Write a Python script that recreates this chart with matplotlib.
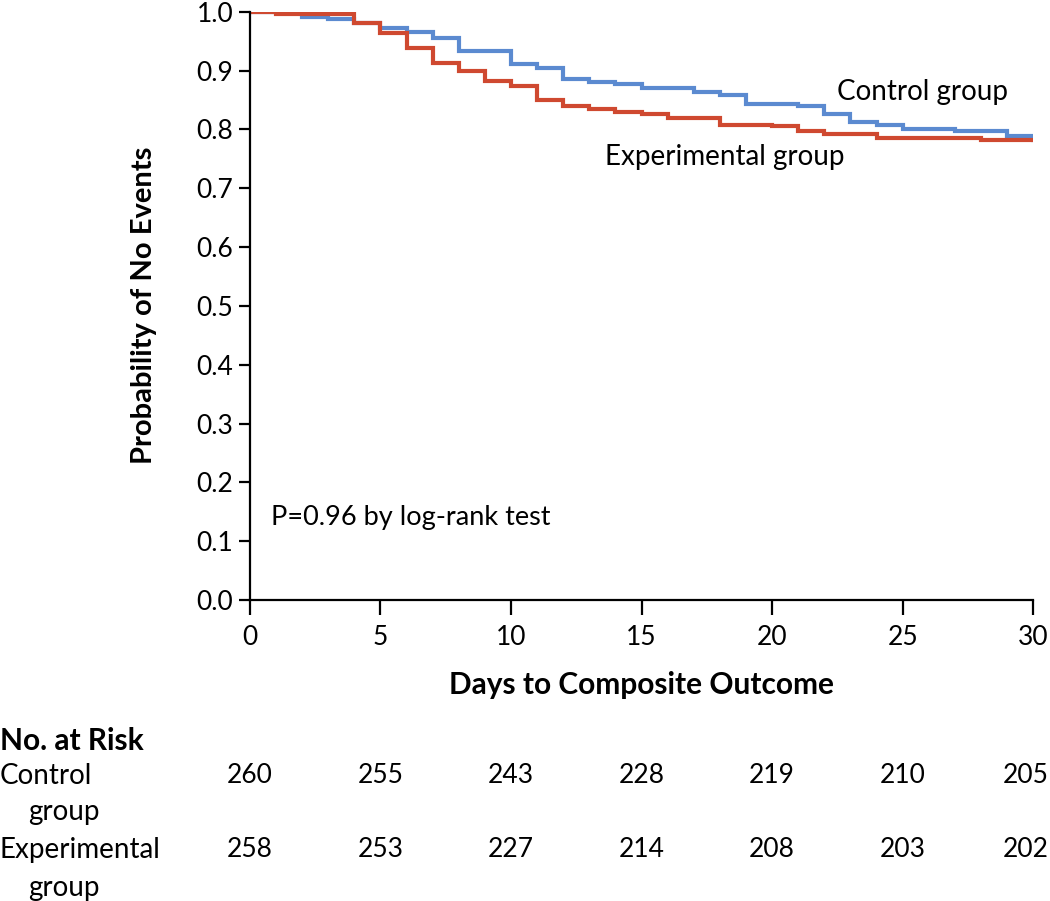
import matplotlib
matplotlib.use("Agg")
import matplotlib.pyplot as plt
import matplotlib.transforms as mtransforms

# Kaplan-Meier step data
control_days = [0, 2, 3, 4, 5, 6, 7, 8, 10, 11, 12, 13, 14, 15, 17, 18, 19, 21, 22, 23, 24, 25, 27, 29, 30]
control_surv = [1.0, 0.991, 0.988, 0.981, 0.973, 0.966, 0.955, 0.934, 0.911, 0.905, 0.886, 0.881, 0.877,
                0.870, 0.863, 0.859, 0.843, 0.840, 0.826, 0.812, 0.808, 0.801, 0.797, 0.789, 0.782]
exp_days = [0, 1, 4, 5, 6, 7, 8, 9, 10, 11, 12, 13, 14, 15, 16, 18, 20, 21, 22, 24, 28, 30]
exp_surv = [1.0, 0.996, 0.981, 0.963, 0.938, 0.912, 0.900, 0.882, 0.873, 0.850, 0.839, 0.835, 0.830,
            0.826, 0.820, 0.808, 0.805, 0.798, 0.792, 0.786, 0.782, 0.782]

risk_days = [0, 5, 10, 15, 20, 25, 30]
control_at_risk = [260, 255, 243, 228, 219, 210, 205]
exp_at_risk = [258, 253, 227, 214, 208, 203, 202]

BLUE = "#5b8ad0"
RED = "#cf4930"
FONT = ["Lato", "DejaVu Sans"]
NUM_FONT = ["Liberation Sans Narrow", "Lato", "DejaVu Sans"]

plt.rcParams["font.family"] = FONT

fig = plt.figure(figsize=(10.5, 9.01), dpi=100, facecolor="white")
ax = fig.add_axes([0.238, 0.334, 0.746, 0.653])

ax.step(control_days, control_surv, where="post", color=BLUE, linewidth=3.0, solid_joinstyle="miter")
ax.step(exp_days, exp_surv, where="post", color=RED, linewidth=3.0, solid_joinstyle="miter")

ax.set_xlim(0, 30)
ax.set_ylim(0, 1.0)
ax.set_xticks(risk_days)
ax.set_yticks([i / 10 for i in range(11)])
ax.set_yticklabels([f"{i / 10:.1f}" for i in range(11)])
for s in ("top", "right"):
    ax.spines[s].set_visible(False)
for s in ("left", "bottom"):
    ax.spines[s].set_linewidth(1.6)
    ax.spines[s].set_color("black")
ax.tick_params(axis="both", direction="out", width=1.6, color="black", labelsize=19)
ax.tick_params(axis="y", length=8, pad=4)
ax.tick_params(axis="x", length=11, pad=7)
for lbl in ax.get_xticklabels() + ax.get_yticklabels():
    lbl.set_family(NUM_FONT)

ax.text(22.5, 0.863, "Control group", fontsize=20, va="center", ha="left")
ax.text(13.6, 0.753, "Experimental group", fontsize=20, va="center", ha="left")
ax.text(0.8, 0.14, "P=0.96 by log-rank test", fontsize=19.5, va="center", ha="left")

fig.text(0.137, 0.661, "Probability of No Events", rotation=90, fontsize=21,
         fontweight="bold", ha="center", va="center")

blend = mtransforms.blended_transform_factory(ax.transData, fig.transFigure)
fig.text(15, 0.240, "Days to Composite Outcome", transform=blend, fontsize=21.5,
         fontweight="bold", ha="center", va="center")

fig.text(0.0, 0.178, "No. at Risk", fontsize=21.5, fontweight="bold", ha="left", va="center")
fig.text(0.0, 0.139, "Control", fontsize=20, ha="left", va="center")
fig.text(0.027, 0.099, "group", fontsize=20, ha="left", va="center")
fig.text(0.0, 0.057, "Experimental", fontsize=20, ha="left", va="center")
fig.text(0.027, 0.0144, "group", fontsize=20, ha="left", va="center")
for d, c, e in zip(risk_days, control_at_risk, exp_at_risk):
    ha = "right" if d == 30 else "center"
    x = d + 0.6 if d == 30 else d
    fig.text(x, 0.139, str(c), transform=blend, fontsize=19, ha=ha, va="center")
    fig.text(x, 0.057, str(e), transform=blend, fontsize=19, ha=ha, va="center")

fig.savefig("out.png", dpi=100, facecolor="white")
